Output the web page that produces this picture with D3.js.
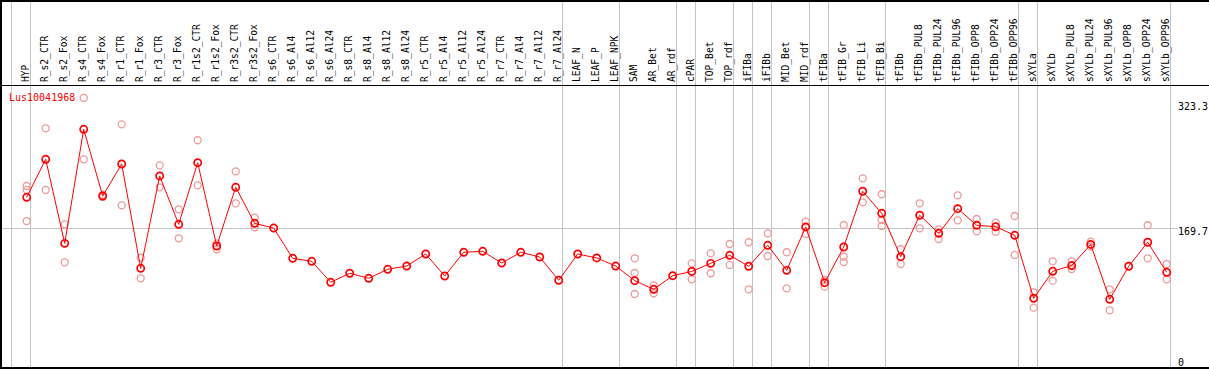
<!DOCTYPE html>
<html><head><meta charset="utf-8">
<script src="https://cdn.jsdelivr.net/npm/d3@7"></script>
<style>body{margin:0;background:#fff}svg{display:block}</style>
</head><body><svg id="c" width="1209" height="370"></svg>
<script>
const title = "Lus10041968";
const categories = ["HYP","R_s2_CTR","R_s2_Fox","R_s4_CTR","R_s4_Fox","R_r1_CTR","R_r1_Fox","R_r3_CTR","R_r3_Fox","R_r1s2_CTR","R_r1s2_Fox","R_r3s2_CTR","R_r3s2_Fox","R_s6_CTR","R_s6_Al4","R_s6_Al12","R_s6_Al24","R_s8_CTR","R_s8_Al4","R_s8_Al12","R_s8_Al24","R_r5_CTR","R_r5_Al4","R_r5_Al12","R_r5_Al24","R_r7_CTR","R_r7_Al4","R_r7_Al12","R_r7_Al24","LEAF_N","LEAF_P","LEAF_NPK","SAM","AR_Bet","AR_rdf","cPAR","TOP_Bet","TOP_rdf","iFIBa","iFIBb","MID_Bet","MID_rdf","tFIBa","tFIB_Gr","tFIB_Li","tFIB_Bi","tFIBb","tFIBb_PUL8","tFIBb_PUL24","tFIBb_PUL96","tFIBb_OPP8","tFIBb_OPP24","tFIBb_OPP96","sXYLa","sXYLb","sXYLb_PUL8","sXYLb_PUL24","sXYLb_PUL96","sXYLb_OPP8","sXYLb_OPP24","sXYLb_OPP96"];
const means = [207.4,254.1,150.8,291.0,209.0,248.3,120.1,233.6,174.2,249.9,147.5,219.7,175.4,169.6,132.4,128.7,102.9,114.0,107.8,118.9,122.9,137.7,110.6,139.8,141.0,126.6,139.8,134.0,105.4,137.7,132.8,122.9,104.9,94.3,111.0,116.2,126.2,136.1,122.6,148.4,117.6,170.9,102.4,146.3,214.8,187.7,134.4,185.3,163.1,193.4,173.0,171.2,160.7,83.2,116.4,123.5,149.4,82.0,122.6,152.1,115.2];
const replicates = [[221.3,216.4,178.2],[292.2,216.4],[174.2,127.5],[329.5,254.1],[210.2,207.8],[297.1,197.5],[133.1,107.8],[246.7,219.7],[192.6,157.0],[277.5,222.1],[150.8,143.5],[239.3,200.0],[182.3,170.5],[],[],[],[],[],[],[],[],[],[],[],[],[],[],[],[],[],[],[],[132.4,114.3,88.5],[99.2,89.4],[],[126.2,106.6],[138.5,114.0],[150.0,124.2],[152.1,94.3],[163.1,135.2],[139.8,95.5],[177.4,162.3],[105.7,97.5],[173.3,134.4,127.8],[230.7,201.2],[211.1,179.5,172.1],[143.5,125.4],[200.0,169.3],[168.0,156.1],[209.8,179.1],[180.7,165.6],[176.2,165.1],[184.4,136.5],[90.6,71.7],[128.7,104.9],[128.7,119.2],[152.8,146.7],[94.3,68.5],[],[173.0,132.4],[125.4,106.6]];
const groupEnds = [-1,0,28,31,34,35,37,38,39,41,42,45,52,53,60];
const yTicks = [0,169.7,323.3];
const refLine = [169.7];

const svg = d3.select("#c");
const x = d3.scaleLinear().domain([0, categories.length-1]).range([26.7, 1166.7]);
const y = d3.scaleLinear().domain([0, 323.3]).range([366, 103]);

// vertical group separators
svg.append("g").selectAll("line").data(groupEnds).join("line")
  .attr("x1", d => Math.round(x(d)+3.7)+0.5).attr("x2", d => Math.round(x(d)+3.7)+0.5)
  .attr("y1", 0).attr("y2", 369)
  .attr("stroke", "#c4c4c4").attr("stroke-width", 1).attr("shape-rendering","crispEdges");
// horizontal reference line
svg.append("g").selectAll("line").data(refLine).join("line")
  .attr("x1", 0).attr("x2", 1178)
  .attr("y1", d => Math.round(y(d))+0.5).attr("y2", d => Math.round(y(d))+0.5)
  .attr("stroke", "#c4c4c4").attr("stroke-width", 1).attr("shape-rendering","crispEdges");

// header separator
svg.append("line").attr("x1",0).attr("x2",1209).attr("y1",85.5).attr("y2",85.5)
  .attr("stroke","#000").attr("stroke-width",1.2);

// header labels
svg.append("g").selectAll("text").data(categories).join("text")
  .attr("transform", (d,i) => `translate(${x(i)+2},82) rotate(-90)`)
  .attr("text-anchor","start")
  .attr("font-family","DejaVu Sans Mono, monospace").attr("font-size","9.6px")
  .attr("fill","#000")
  .text(d => d);

// replicate points
const reps = [];
replicates.forEach((arr,i) => arr.forEach(v => reps.push({i, v})));
svg.append("g").selectAll("circle").data(reps).join("circle")
  .attr("cx", d => x(d.i)).attr("cy", d => y(d.v)).attr("r", 3.5)
  .attr("fill","none").attr("stroke","#ee9a9a").attr("stroke-width",1.3);

// mean line
svg.append("path").datum(means)
  .attr("d", d3.line().x((d,i) => x(i)).y(d => y(d)))
  .attr("fill","none").attr("stroke","#ff0000").attr("stroke-width",1);

svg.append("g").selectAll("circle").data(means).join("circle")
  .attr("cx", (d,i) => x(i)).attr("cy", d => y(d)).attr("r", 3.6)
  .attr("fill","none").attr("stroke","#ff0000").attr("stroke-width",1.7);

// title
svg.append("text").attr("x",9).attr("y",101).text(title)
  .attr("font-family","DejaVu Sans Mono, monospace").attr("font-size","10px").attr("fill","#ff0000");

// y labels
svg.append("g").selectAll("text").data(yTicks).join("text")
  .attr("x",1178).attr("y", d => y(d))
  .attr("dominant-baseline", d => d === 0 ? "auto" : "hanging")
  .attr("font-family","DejaVu Sans Mono, monospace").attr("font-size","10px").attr("fill","#000")
  .text(d => d === 0 ? "0" : d3.format(".1f")(d));

// frame
svg.append("path").attr("d","M1,0 V368 H1209 M0,1 H1209")
  .attr("fill","none").attr("stroke","#000").attr("stroke-width",2);
</script>
</body></html>
